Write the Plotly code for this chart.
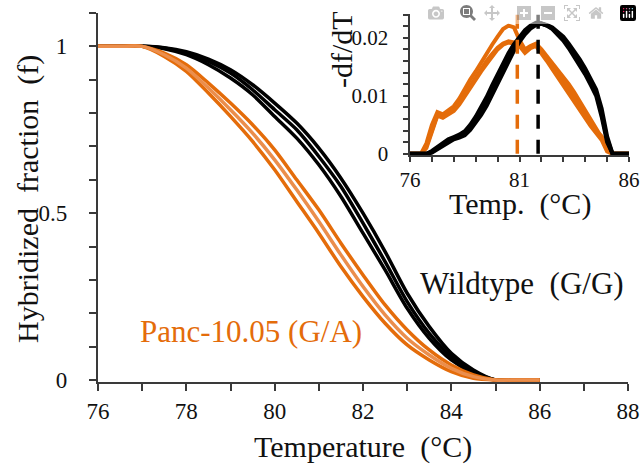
import plotly.graph_objects as go

# ---------------- data ----------------
temp_main = [76, 76.5, 77, 77.5, 78, 78.5, 79, 79.5, 80, 80.5, 81, 81.5,
             82, 82.5, 83, 83.5, 84, 84.5, 85, 85.5, 86]

wt_f1 = [1, 1, 1, 0.993, 0.975, 0.945, 0.905, 0.855, 0.79, 0.725, 0.645, 0.55,
         0.44, 0.33, 0.215, 0.125, 0.06, 0.02, 0, 0, 0]
wt_f2 = [1, 1, 1, 0.995, 0.98, 0.955, 0.92, 0.87, 0.81, 0.75, 0.67, 0.58,
         0.47, 0.355, 0.235, 0.14, 0.07, 0.025, 0, 0, 0]
wt_f3 = [1, 1, 1, 0.996, 0.984, 0.962, 0.93, 0.885, 0.83, 0.77, 0.695, 0.605,
         0.5, 0.385, 0.26, 0.16, 0.08, 0.03, 0, 0, 0]

pc_f1 = [1, 1, 1, 0.97, 0.925, 0.86, 0.79, 0.715, 0.63, 0.535, 0.44, 0.34,
         0.25, 0.17, 0.105, 0.06, 0.025, 0.005, 0, 0, 0]
pc_f2 = [1, 1, 1, 0.975, 0.935, 0.875, 0.81, 0.74, 0.66, 0.57, 0.475, 0.375,
         0.28, 0.195, 0.125, 0.075, 0.035, 0.01, 0, 0, 0]
pc_f3 = [1, 1, 1, 0.98, 0.945, 0.89, 0.83, 0.765, 0.69, 0.6, 0.51, 0.41,
         0.315, 0.225, 0.15, 0.09, 0.045, 0.015, 0, 0, 0]

temp_inset = [76, 76.25, 76.5, 76.75, 77, 77.25, 77.5, 77.75, 78, 78.25, 78.5, 78.75,
              79, 79.25, 79.5, 79.75, 80, 80.25, 80.5, 80.75, 81, 81.25, 81.5, 81.75,
              82, 82.25, 82.5, 82.75, 83, 83.25, 83.5, 83.75, 84, 84.25, 84.5, 84.75,
              85, 85.25, 85.5, 85.75, 86]

pc_d1 = [0, 0, 0, 0.0018, 0.0050, 0.0072, 0.0068, 0.0075, 0.0082, 0.0095, 0.0112, 0.0128,
         0.0142, 0.0158, 0.0172, 0.0188, 0.0202, 0.0215, 0.0221, 0.0218, 0.0196, 0.0180,
         0.0186, 0.0190, 0.0180, 0.0168, 0.0157, 0.0146, 0.0134, 0.0120, 0.0106, 0.0090,
         0.0074, 0.0058, 0.0043, 0.0028, 0.0006, 0, 0, 0, 0]
pc_d2 = [0, 0, 0, 0.0013, 0.0043, 0.0068, 0.0064, 0.0070, 0.0077, 0.0088, 0.0103, 0.0118,
         0.0132, 0.0146, 0.0160, 0.0172, 0.0183, 0.0190, 0.0194, 0.0192, 0.0188, 0.0176,
         0.0184, 0.0188, 0.0176, 0.0164, 0.0152, 0.0140, 0.0126, 0.0111, 0.0095, 0.0080,
         0.0064, 0.0050, 0.0040, 0.0030, 0.0008, 0, 0, 0, 0]
pc_d3 = [0, 0, 0, 0.0010, 0.0040, 0.0066, 0.0062, 0.0068, 0.0074, 0.0085, 0.0100, 0.0115,
         0.0128, 0.0142, 0.0155, 0.0168, 0.0180, 0.0188, 0.0192, 0.0190, 0.0186, 0.0174,
         0.0182, 0.0186, 0.0174, 0.0160, 0.0146, 0.0132, 0.0118, 0.0102, 0.0088, 0.0074,
         0.0060, 0.0048, 0.0036, 0.0024, 0.0004, 0, 0, 0, 0]

wt_d1 = [0, 0, 0, 0, 0.0005, 0.0012, 0.0019, 0.0025, 0.0029, 0.0033, 0.0039, 0.0050,
         0.0064, 0.0080, 0.0098, 0.0118, 0.0138, 0.0157, 0.0174, 0.0189, 0.0202, 0.0213,
         0.0221, 0.0226, 0.0225, 0.0221, 0.0215, 0.0206, 0.0195, 0.0182, 0.0168, 0.0153,
         0.0137, 0.0119, 0.0100, 0.0064, 0.0020, 0, 0, 0, 0]
wt_d2 = [0, 0, 0, 0, 0.0003, 0.0010, 0.0017, 0.0023, 0.0027, 0.0030, 0.0035, 0.0045,
         0.0058, 0.0073, 0.0090, 0.0110, 0.0130, 0.0150, 0.0168, 0.0184, 0.0198, 0.0210,
         0.0219, 0.0224, 0.0224, 0.0221, 0.0216, 0.0208, 0.0198, 0.0185, 0.0172, 0.0158,
         0.0142, 0.0124, 0.0105, 0.0070, 0.0025, 0, 0, 0, 0]
wt_d3 = [0, 0, 0, 0, 0.0002, 0.0008, 0.0015, 0.0021, 0.0025, 0.0028, 0.0032, 0.0041,
         0.0053, 0.0067, 0.0083, 0.0102, 0.0122, 0.0142, 0.0161, 0.0178, 0.0193, 0.0206,
         0.0216, 0.0222, 0.0224, 0.0222, 0.0218, 0.0211, 0.0202, 0.0190, 0.0177, 0.0163,
         0.0147, 0.0130, 0.0111, 0.0078, 0.0030, 0, 0, 0, 0]

tm_values = [80.9, 81.85]           # Panc-10.05, Wildtype
tm_span = [0, 0.024]

# tick positions (every tick) and their labels ("" = unlabeled tick)
main_xticks = [76, 77, 78, 79, 80, 81, 82, 83, 84, 85, 86, 87, 88]
main_xticklabels = ["76", "", "78", "", "80", "", "82", "", "84", "", "86", "", "88"]
main_yticks = [0, 0.1, 0.2, 0.3, 0.4, 0.5, 0.6, 0.7, 0.8, 0.9, 1.0, 1.1]
main_yticklabels = ["0", "", "", "", "", "0.5", "", "", "", "", "1", ""]
inset_xticks = [76, 77, 78, 79, 80, 81, 82, 83, 84, 85, 86]
inset_xticklabels = ["76", "", "", "", "", "81", "", "", "", "", "86"]
inset_yticks = [0, 0.002, 0.004, 0.006, 0.008, 0.01, 0.012, 0.014, 0.016, 0.018,
                0.02, 0.022, 0.024]
inset_yticklabels = ["0", "", "", "", "", "0.01", "", "", "", "", "0.02", "", ""]

# ---------------- styling ----------------
ORANGE = "#E46C0A"
ORANGE_L = "#EB8E4C"
BLACK = "#000000"
AXIS = "#3a3a3a"
TXT = "#111111"
FONT = "Liberation Serif"
W, H = 642, 470

fig = go.Figure()

for ys in [wt_f1, wt_f3, wt_f2]:
    fig.add_trace(go.Scatter(x=temp_main, y=ys, mode="lines",
                             line=dict(color=BLACK, width=3.5, shape="spline", smoothing=0.8),
                             xaxis="x", yaxis="y", hoverinfo="skip"))
for ys, c in [(pc_f1, ORANGE), (pc_f3, ORANGE), (pc_f2, ORANGE_L)]:
    fig.add_trace(go.Scatter(x=temp_main, y=ys, mode="lines",
                             line=dict(color=c, width=3.5, shape="spline", smoothing=0.8),
                             xaxis="x", yaxis="y", hoverinfo="skip"))

for ys in [pc_d1, pc_d2, pc_d3]:
    fig.add_trace(go.Scatter(x=temp_inset, y=ys, mode="lines",
                             line=dict(color=ORANGE, width=4),
                             xaxis="x2", yaxis="y2", hoverinfo="skip"))
for ys in [wt_d1, wt_d2, wt_d3]:
    fig.add_trace(go.Scatter(x=temp_inset, y=ys, mode="lines",
                             line=dict(color=BLACK, width=4),
                             xaxis="x2", yaxis="y2", hoverinfo="skip"))

for tm, c in zip(tm_values, [ORANGE, BLACK]):
    fig.add_trace(go.Scatter(x=[tm, tm], y=tm_span, mode="lines",
                             line=dict(color=c, width=3.5, dash="14px,11px"),
                             xaxis="x2", yaxis="y2", hoverinfo="skip"))


def px_x(p):
    return p / W


def px_y(p):
    return 1 - p / H


def axis(tickvals, ticktext, ticklen, fontsize, **kw):
    d = dict(visible=True, showline=True, linecolor=AXIS, linewidth=2, ticks="outside",
             tickcolor=AXIS, tickwidth=2, ticklen=ticklen, showgrid=False,
             zeroline=False, automargin=False, tickmode="array", layer="above traces",
             tickvals=tickvals, ticktext=ticktext, showticklabels=True,
             tickfont=dict(family=FONT, size=fontsize, color=TXT))
    d.update(kw)
    return d


NB = "\u00a0"
fig.update_layout(
    template="none",
    width=W, height=H,
    margin=dict(l=0, r=0, t=0, b=0, pad=0, autoexpand=False),
    paper_bgcolor="white", plot_bgcolor="rgba(0,0,0,0)",
    showlegend=False,
    xaxis=axis(main_xticks, main_xticklabels, 7, 23,
               domain=[px_x(98), px_x(628)], range=[76, 88], anchor="y"),
    yaxis=axis(main_yticks, [t + NB * 3 if t else t for t in main_yticklabels], 7, 23,
               domain=[px_y(382), px_y(13)], range=[-0.006, 1.1], anchor="x"),
    xaxis2=axis(inset_xticks, inset_xticklabels, 5, 21,
                domain=[px_x(410), px_x(629)], range=[76, 86], anchor="y2"),
    yaxis2=axis(inset_yticks, [t + NB * 2 if t else t for t in inset_yticklabels], 5, 21,
                domain=[px_y(155), px_y(14)], range=[-0.0002, 0.0241], anchor="x2"),
)

ann = [
    dict(text="Temperature  (°C)", x=px_x(363), y=px_y(447), size=30, color=TXT, angle=0),
    dict(text="Hybridized  fraction  (f)", x=px_x(28), y=px_y(199), size=30, color=TXT, angle=-90),
    dict(text="Temp.  (°C)", x=px_x(520), y=px_y(204), size=30, color=TXT, angle=0),
    dict(text="-df/dT", x=px_x(342), y=px_y(49), size=30, color=TXT, angle=-90),
]
for a in ann:
    fig.add_annotation(text=a["text"], x=a["x"], y=a["y"], xref="paper", yref="paper",
                       xanchor="center", yanchor="middle", showarrow=False,
                       textangle=a["angle"],
                       font=dict(family=FONT, size=a["size"], color=a["color"]))

fig.add_annotation(text="Wildtype  (G/G)", x=px_x(418), y=px_y(283), xref="paper", yref="paper",
                   xanchor="left", yanchor="middle", showarrow=False,
                   font=dict(family=FONT, size=31, color=TXT))
fig.add_annotation(text="Panc-10.05 (G/A)", x=px_x(138), y=px_y(331), xref="paper", yref="paper",
                   xanchor="left", yanchor="middle", showarrow=False,
                   font=dict(family=FONT, size=31, color=ORANGE))

fig.write_html("out.html", post_script="document.body.style.margin='0';")
